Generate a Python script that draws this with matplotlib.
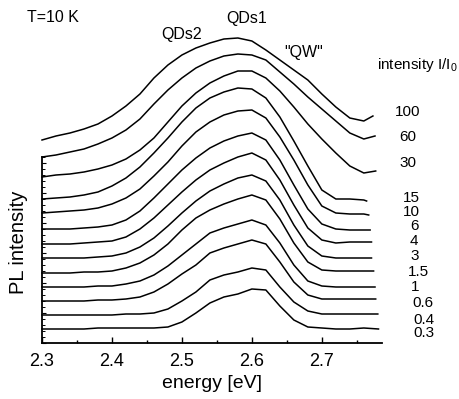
"""
PL spectra at T=10 K for different excitation intensities.
Stacked curves, one per intensity I/I0, offsets already included.
"""

import matplotlib
matplotlib.use("Agg")
import matplotlib.pyplot as plt
from matplotlib.ticker import MultipleLocator, FixedLocator, NullFormatter

# energy grid shared by all spectra (eV)
energy = [2.30, 2.32, 2.34, 2.36, 2.38, 2.40, 2.42, 2.44, 2.46, 2.48, 2.50, 2.52,
          2.54, 2.56, 2.58, 2.60, 2.62, 2.64, 2.66, 2.68, 2.70, 2.72, 2.74, 2.76]

intensity_labels = ["100", "60", "30", "15", "10", "6", "4", "3", "1.5", "1", "0.6", "0.4", "0.3"]

# last point of each spectrum (energy, value)
end_energy = [2.773, 2.776, 2.777, 2.764, 2.767, 2.769, 2.771, 2.771, 2.774, 2.776, 2.777, 2.780, 2.781]
end_value = [227, 207, 172, 142, 128, 113, 101, 85, 72, 56, 44, 29, 14]

# PL signal (arb. units, stacked)
pl_100 = [203, 207, 210, 214, 219, 227, 237, 249, 265, 278, 288, 295, 300, 304, 305, 302, 293, 283, 273, 263, 249, 236, 225, 222]
pl_60 = [186, 188, 191, 194, 199, 205, 213, 224, 239, 253, 265, 275, 282, 287, 289, 288, 283, 271, 259, 246, 234, 222, 210, 204]
pl_30 = [166, 168, 169, 171, 174, 178, 184, 193, 205, 221, 237, 250, 260, 267, 272, 272, 265, 252, 236, 219, 204, 190, 177, 170]
pl_15 = [144, 145, 146, 148, 151, 157, 165, 176, 190, 205, 221, 235, 245, 251, 255, 254, 245, 226, 202, 177, 153, 144, 144, 143]
pl_10 = [130, 131, 132, 133, 135, 139, 145, 154, 167, 181, 197, 211, 221, 228, 232, 233, 225, 206, 183, 158, 137, 130, 129, 129]
pl_6 = [114, 114, 114, 115, 116, 118, 123, 132, 145, 159, 173, 185, 195, 202, 207, 210, 203, 183, 158, 134, 119, 114, 113, 113]
pl_4 = [99, 99, 99, 100, 101, 102, 106, 114, 125, 138, 151, 163, 173, 180, 186, 190, 183, 163, 138, 115, 103, 100, 101, 101]
pl_3 = [85, 85, 85, 85, 86, 87, 90, 96, 105, 117, 130, 142, 152, 159, 165, 168, 162, 143, 118, 97, 87, 85, 85, 85]
pl_1_5 = [70, 70, 70, 71, 71, 72, 75, 80, 88, 99, 113, 125, 133, 139, 144, 148, 143, 124, 100, 81, 73, 72, 72, 72]
pl_1 = [56, 56, 56, 56, 57, 57, 59, 62, 68, 77, 88, 99, 110, 115, 119, 123, 118, 100, 78, 62, 57, 56, 56, 56]
pl_0_6 = [42, 42, 42, 42, 43, 43, 44, 46, 51, 59, 69, 78, 90, 95, 99, 103, 99, 81, 61, 48, 44, 44, 44, 44]
pl_0_4 = [28, 28, 28, 28, 28, 28, 29, 29, 30, 34, 42, 51, 63, 68, 71, 75, 73, 56, 41, 32, 29, 29, 29, 29]
pl_0_3 = [14, 14, 14, 14, 15, 15, 15, 15, 15, 16, 21, 30, 40, 46, 49, 54, 53, 37, 23, 16, 15, 14, 14, 15]

spectra = [pl_100, pl_60, pl_30, pl_15, pl_10, pl_6, pl_4, pl_3,
           pl_1_5, pl_1, pl_0_6, pl_0_4, pl_0_3]

W, H = 460, 399
FONT = "Liberation Sans"

# label positions in figure pixels (left x, centre y)
label_pos = [(395, 112), (399, 137), (399, 163), (403, 198), (403, 212), (410, 226),
             (410, 241), (410, 256), (408, 272), (411, 287), (412, 303), (413, 320), (413, 333)]


def px(x, y):
    """Figure pixel -> figure fraction."""
    return x / W, 1 - y / H


def plot_spectra():
    plt.rcParams["font.family"] = [FONT, "DejaVu Sans"]
    plt.rcParams["mathtext.fontset"] = "custom"
    plt.rcParams["mathtext.rm"] = FONT

    fig = plt.figure(figsize=(W / 100, H / 100), dpi=100)
    ax = fig.add_axes([42 / W, (H - 343) / H, (382 - 42) / W, (343 - 20) / H])

    for spec, e_end, v_end in zip(spectra, end_energy, end_value):
        ax.plot(energy + [e_end], spec + [v_end], color="black", lw=1.1, clip_on=False)

    ax.set_xlim(2.3, 2.786)
    ax.set_ylim(0, 323)

    for side in ("top", "right"):
        ax.spines[side].set_visible(False)
    for side in ("left", "bottom"):
        ax.spines[side].set_linewidth(1.3)
    ax.spines["left"].set_bounds(0, 186)

    ax.xaxis.set_major_locator(MultipleLocator(0.1))
    ax.xaxis.set_minor_locator(MultipleLocator(0.05))
    ax.xaxis.set_major_formatter(lambda v, pos: f"{v:.1f}")
    ax.yaxis.set_major_locator(FixedLocator(list(range(0, 187, 30))))
    ax.yaxis.set_minor_locator(FixedLocator(list(range(0, 187, 6))))
    ax.yaxis.set_major_formatter(NullFormatter())

    ax.tick_params(axis="x", which="major", direction="in", length=4, width=1, labelsize=13, pad=7)
    ax.tick_params(axis="x", which="minor", direction="in", length=2.5, width=1)
    ax.tick_params(axis="y", which="major", direction="in", length=3, width=0.8)
    ax.tick_params(axis="y", which="minor", direction="in", length=2, width=0.7)

    ax.set_xlabel("energy [eV]", fontsize=14, labelpad=4)
    fig.text(*px(19, 242), "PL intensity", fontsize=14.5, rotation=90, ha="center", va="center")

    fig.text(*px(27, 18), "T=10 K", fontsize=11.5, va="center")
    fig.text(*px(182, 34), "QDs2", fontsize=11.5, ha="center", va="center")
    fig.text(*px(247, 19), "QDs1", fontsize=11.5, ha="center", va="center")
    fig.text(*px(304, 52), "\"QW\"", fontsize=11.5, ha="center", va="center")
    fig.text(*px(377, 65), "intensity I/I$_\\mathrm{0}$", fontsize=11, va="center")

    for lab, (x, y) in zip(intensity_labels, label_pos):
        fig.text(*px(x, y), lab, fontsize=11, va="center")

    fig.savefig("out.png", dpi=100)


if __name__ == "__main__":
    plot_spectra()
